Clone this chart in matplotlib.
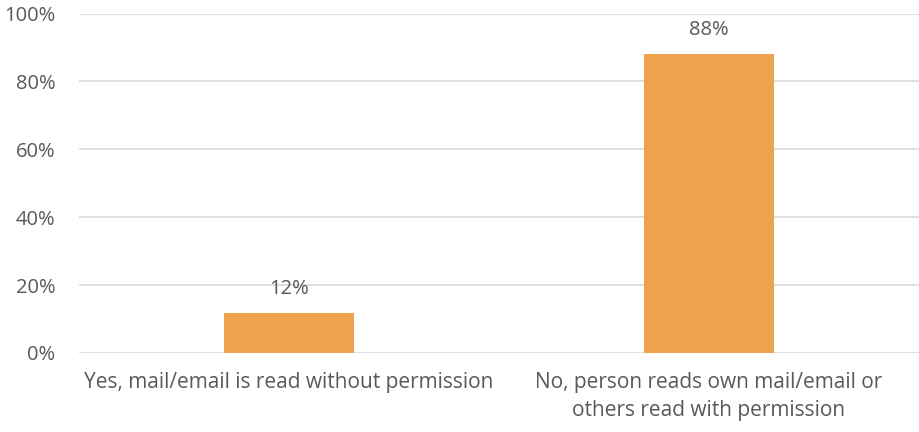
import matplotlib
matplotlib.use("Agg")
import matplotlib.pyplot as plt
from matplotlib.ticker import FuncFormatter

categories = ["Yes, mail/email is read without permission",
              "No, person reads own mail/email or\nothers read with permission"]
values = [0.119, 0.881]
labels = ["12%", "88%"]
yticks = [0, 0.2, 0.4, 0.6, 0.8, 1.0]

plt.rcParams['font.family'] = ['Open Sans', 'DejaVu Sans']
text_color = "#595959"
bar_color = "#EDA24C"
grid_color = "#D9D9D9"

fig = plt.figure(figsize=(9.19, 4.32), dpi=100)
ax = fig.add_axes([79/919, 1 - 353/432, 1 - 79/919, (353 - 13.5)/432])

x = list(range(len(categories)))
bars = ax.bar(x, values, width=0.31, color=bar_color, zorder=3)
ax.set_xlim(-0.5, len(categories) - 0.5)
ax.set_ylim(0, 1.0)
ax.set_yticks(yticks)
ax.yaxis.set_major_formatter(FuncFormatter(lambda v, p: f"{v*100:.0f}%"))
ax.set_xticks(x)
ax.set_xticklabels(categories, linespacing=1.4)
ax.tick_params(axis='y', length=0, pad=17, labelsize=14.5, labelcolor=text_color)
ax.tick_params(axis='x', length=0, pad=14, labelsize=15, labelcolor=text_color)
ax.grid(axis='y', color=grid_color, linewidth=1.2, zorder=0)
ax.set_axisbelow(True)
for s in ax.spines.values():
    s.set_visible(False)

for b, lab in zip(bars, labels):
    ax.annotate(lab, (b.get_x() + b.get_width()/2, b.get_height()),
                xytext=(0, 10), textcoords="offset points",
                ha="center", va="bottom", fontsize=14.5, color=text_color)

fig.savefig("out.png", dpi=100)
